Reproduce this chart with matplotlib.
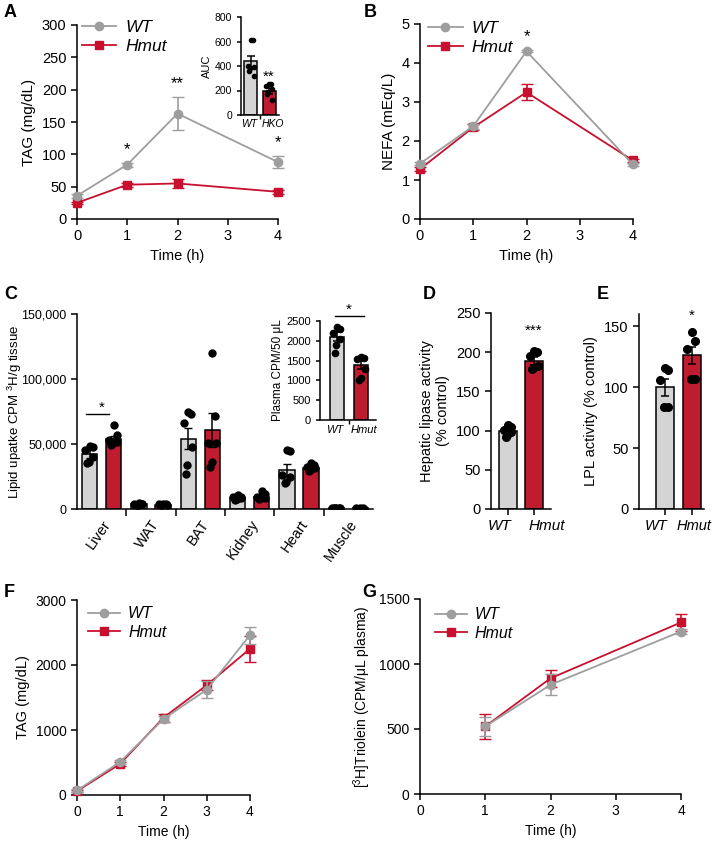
import matplotlib
matplotlib.use('Agg')
import matplotlib.pyplot as plt
import numpy as np
from matplotlib.ticker import FuncFormatter
from matplotlib.lines import Line2D
from matplotlib.transforms import ScaledTranslation

plt.rcParams['font.family'] = ['Liberation Sans', 'DejaVu Sans']
plt.rcParams['font.size'] = 9
plt.rcParams['mathtext.default'] = 'regular'
plt.rcParams['axes.linewidth'] = 1.1

WT_LINE = '#9e9e9e'
HM_LINE = '#c8102e'
WT_BAR = '#d4d4d4'
HM_BAR = '#c01c2f'

# A: TAG after oral lipid load
time_a = [0, 1, 2, 4]
a_wt = [36, 84, 163, 88]
a_wt_err = [3, 3, 25, 9]
a_hm = [25, 53, 55, 42]
a_hm_err = [2, 3, 7, 3]
a_stars = ['', '*', '**', '*']

# A inset: AUC
auc_groups = ['WT', 'HKO']
auc_mean = [440, 195]
auc_err = [45, 25]
auc_dots = [[610, 610, 400, 390, 380, 360, 320],
            [250, 250, 240, 210, 190, 170, 120]]

# B: NEFA
time_b = [0, 1, 2, 4]
b_wt = [1.42, 2.38, 4.30, 1.40]
b_wt_err = [0.04, 0.06, 0.03, 0.04]
b_hm = [1.28, 2.35, 3.25, 1.50]
b_hm_err = [0.05, 0.08, 0.20, 0.05]
b_stars = ['', '', '*', '']

# C: tissue lipid uptake
tissues = ['Liver', 'WAT', 'BAT', 'Kidney', 'Heart', 'Muscle']
c_wt = [42500, 3800, 54000, 8800, 30000, 600]
c_wt_err = [3000, 300, 8000, 700, 4500, 150]
c_hm = [53800, 3400, 61000, 9500, 31500, 400]
c_hm_err = [2500, 300, 13000, 1000, 1200, 100]
c_wt_dots = [[48500, 48000, 45400, 40300, 36400, 35600],
             [4500, 4200, 3900, 3600, 3300, 3000],
             [74900, 73100, 65900, 47900, 33800, 26900],
             [11000, 9500, 9000, 8500, 8000, 7000],
             [45400, 44900, 26000, 24900, 21000, 20300],
             [800, 700, 600, 500, 500, 400]]
c_hm_dots = [[64600, 56900, 53100, 51800, 50500, 49200],
             [4200, 3800, 3500, 3200, 2900, 2700],
             [120000, 71800, 50500, 50500, 36400, 32600],
             [14100, 11500, 9500, 8700, 8200, 7500],
             [35600, 33800, 32600, 31300, 30000, 29500],
             [600, 500, 400, 300, 300, 200]]

# C inset: plasma counts
plasma_groups = ['WT', 'Hmut']
plasma_mean = [2100, 1390]
plasma_err = [110, 100]
plasma_dots = [[2350, 2300, 2200, 2050, 1900, 1680],
               [1600, 1560, 1540, 1300, 1050, 1000]]

# D: hepatic lipase
d_groups = ['WT', 'Hmut']
d_mean = [100, 189]
d_err = [3, 5]
d_dots = [[107, 104, 101, 98, 95, 92],
          [202, 200, 195, 183, 180, 178]]

# E: LPL activity
e_groups = ['WT', 'Hmut']
e_mean = [100, 126]
e_err = [7, 7]
e_dots = [[116, 114, 106, 84, 84],
          [145, 138, 131, 107, 107]]

# F: TAG secretion
time_f = [0, 1, 2, 3, 4]
f_wt = [70, 510, 1170, 1620, 2460]
f_wt_err = [30, 30, 50, 130, 130]
f_hm = [60, 480, 1190, 1690, 2250]
f_hm_err = [20, 30, 60, 80, 200]

# G: triolein
time_g = [1, 2, 4]
g_wt = [520, 840, 1250]
g_wt_err = [70, 80, 20]
g_hm = [520, 890, 1320]
g_hm_err = [95, 65, 65]

W, H = 714, 843
fig = plt.figure(figsize=(W / 100, H / 100), dpi=100)


def ax_px(l, t, r, b):
    return fig.add_axes([l / W, 1 - b / H, (r - l) / W, (b - t) / H])


def style(ax, fs=9):
    for s in ['top', 'right']:
        ax.spines[s].set_visible(False)
    ax.tick_params(direction='out', length=4, width=1.1, labelsize=fs)


def jitter(n, w):
    return w * np.sin(np.arange(n) * 2.4)


def line_panel(ax, t, wt, wte, hm, hme, fs=10, lw=1.3, ms=6):
    ax.errorbar(t, hm, yerr=hme, color=HM_LINE, marker='s', ms=ms - 0.5,
                lw=lw, capsize=4, elinewidth=1.2, clip_on=False, zorder=3)
    ax.errorbar(t, wt, yerr=wte, color=WT_LINE, marker='o', ms=ms,
                lw=lw, capsize=4, elinewidth=1.2, clip_on=False, zorder=4)
    style(ax, fs)
    ax.set_xlabel('Time (h)', fontsize=fs)


def legend(ax, fs=12, anchor=(0.02, 1.0), ms=6):
    h1 = Line2D([], [], color=WT_LINE, marker='o', ms=ms, lw=1.3)
    h2 = Line2D([], [], color=HM_LINE, marker='s', ms=ms - 0.5, lw=1.3)
    ax.legend([h1, h2], ['WT', 'Hmut'], loc='upper left', bbox_to_anchor=anchor,
              frameon=False, prop={'style': 'italic', 'size': fs},
              handlelength=2.0, handletextpad=0.5, labelspacing=0.2,
              borderpad=0.1, borderaxespad=0)


def bar_panel(ax, means, errs, dots, width, ms, jw):
    x = np.arange(len(means))
    ax.bar(x, means, width=width, color=[WT_BAR, HM_BAR], edgecolor='black',
           linewidth=1.1, zorder=2)
    for i, d in enumerate(dots):
        ax.plot(i + jitter(len(d), jw), d, 'o', color='black', ms=ms, zorder=3,
                clip_on=False)
    ax.errorbar(x, means, yerr=errs, fmt='none', ecolor='black', elinewidth=1.1,
                capsize=3, capthick=1.1, zorder=4)
    style(ax)
    return x


def shift_labels(ax, shifts):
    for lab, dx in zip(ax.get_xticklabels(), shifts):
        lab.set_transform(lab.get_transform() + ScaledTranslation(dx / 100, 0, fig.dpi_scale_trans))


# ---- A ----
axA = ax_px(77, 25, 278, 219)
line_panel(axA, time_a, a_wt, a_wt_err, a_hm, a_hm_err, fs=10.5)
axA.set_xlim(0, 4)
axA.set_ylim(0, 300)
axA.set_xticks([0, 1, 2, 3, 4])
axA.set_yticks(range(0, 301, 50))
axA.set_ylabel('TAG (mg/dL)', fontsize=11)
legend(axA, fs=12.5, anchor=(0.015, 1.035))
for t, m, e, s in zip(time_a, a_wt, a_wt_err, a_stars):
    if s:
        axA.text(t, m + e + 14, s, ha='center', va='baseline', fontsize=12)

axAi = ax_px(241, 17, 279, 115)
bar_panel(axAi, auc_mean, auc_err, auc_dots, 0.72, 3, 0.18)
axAi.set_xlim(-0.55, 1.55)
axAi.set_ylim(0, 800)
axAi.set_yticks(range(0, 801, 200))
axAi.tick_params(labelsize=7.5, length=3)
axAi.set_xticks([0, 1])
axAi.set_xticklabels(auc_groups, style='italic', fontsize=7.5)
axAi.tick_params(axis='x', length=0, pad=3)
shift_labels(axAi, [-2, 4])
axAi.set_xticks([0.5], minor=True)
axAi.tick_params(axis='x', which='minor', length=3, width=1)
axAi.set_ylabel('AUC', fontsize=8, labelpad=2)
axAi.text(1, auc_mean[1] + auc_err[1] + 60, '**', ha='center', va='baseline', fontsize=11)

# ---- B ----
axB = ax_px(420, 24, 633, 219)
line_panel(axB, time_b, b_wt, b_wt_err, b_hm, b_hm_err, fs=10.5)
axB.set_xlim(0, 4)
axB.set_ylim(0, 5)
axB.set_xticks([0, 1, 2, 3, 4])
axB.set_yticks(range(0, 6))
axB.set_ylabel('NEFA (mEq/L)', fontsize=11)
legend(axB, fs=12.5, anchor=(0.03, 1.025))
for t, m, e, s in zip(time_b, b_wt, b_wt_err, b_stars):
    if s:
        axB.text(t, m + e + 0.22, s, ha='center', va='baseline', fontsize=12)

# ---- C ----
axC = ax_px(77, 314, 373, 509)
xc = np.arange(len(tissues))
off, bw = 0.245, 0.31
axC.bar(xc - off, c_wt, width=bw, color=WT_BAR, edgecolor='black', linewidth=1.1, zorder=2)
axC.bar(xc + off, c_hm, width=bw, color=HM_BAR, edgecolor='black', linewidth=1.1, zorder=2)
for i in range(len(tissues)):
    axC.plot(i - off + jitter(len(c_wt_dots[i]), 0.09), c_wt_dots[i], 'o',
             color='black', ms=5, zorder=3)
    axC.plot(i + off + jitter(len(c_hm_dots[i]), 0.09), c_hm_dots[i], 'o',
             color='black', ms=5, zorder=3)
axC.errorbar(xc - off, c_wt, yerr=c_wt_err, fmt='none', ecolor='black',
             elinewidth=1.1, capsize=3, zorder=4)
axC.errorbar(xc + off, c_hm, yerr=c_hm_err, fmt='none', ecolor='black',
             elinewidth=1.1, capsize=3, zorder=4)
style(axC, 9)
axC.set_xlim(-0.5, 5.5)
axC.set_ylim(0, 150000)
axC.set_yticks(range(0, 150001, 50000))
axC.yaxis.set_major_formatter(FuncFormatter(lambda v, p: f'{int(v):,}'))
axC.set_xticks(xc)
axC.set_xticklabels(tissues, rotation=55, ha='right', rotation_mode='anchor', fontsize=10.5)
axC.tick_params(axis='x', length=0, pad=6)
axC.set_xticks(xc[:-1] + 0.5, minor=True)
axC.tick_params(axis='x', which='minor', length=5, width=1.1)
axC.set_ylabel('Lipid upatke CPM $^{3}$H/g tissue', fontsize=9.5)
axC.yaxis.set_label_coords(-0.18, 0.5)
axC.plot([-off - 0.08, off - 0.1], [73000, 73000], color='black', lw=1)
axC.text(0, 75000, '*', ha='center', va='baseline', fontsize=11)

axCi = ax_px(320, 321, 376, 420)
bar_panel(axCi, plasma_mean, plasma_err, plasma_dots, 0.58, 4.5, 0.17)
axCi.set_xlim(-0.7, 1.6)
axCi.set_ylim(0, 2500)
axCi.set_yticks(range(0, 2501, 500))
axCi.tick_params(labelsize=8, length=3)
axCi.set_xticks([0, 1])
axCi.set_xticklabels(plasma_groups, style='italic', fontsize=8)
axCi.tick_params(axis='x', length=0)
shift_labels(axCi, [-2, 3])
axCi.set_xticks([0.5], minor=True)
axCi.tick_params(axis='x', which='minor', length=3, width=1)
axCi.set_ylabel('Plasma CPM/50 μL', fontsize=8.5, labelpad=2)
axCi.plot([-0.1, 1.1], [2630, 2630], color='black', lw=1, clip_on=False)
axCi.text(0.5, 2680, '*', ha='center', va='baseline', fontsize=11)

# ---- D ----
axD = ax_px(491, 313, 551, 509)
bar_panel(axD, d_mean, d_err, d_dots, 0.68, 5.5, 0.17)
axD.set_xlim(-0.65, 1.65)
axD.set_ylim(0, 250)
axD.set_yticks(range(0, 251, 50))
axD.tick_params(labelsize=10.5)
axD.set_xticks([0, 1])
axD.set_xticklabels(d_groups, style='italic', fontsize=11)
shift_labels(axD, [-8, 13])
axD.set_ylabel('Hepatic lipase activity\n(% control)', fontsize=10.5)
axD.text(1, d_mean[1] + d_err[1] + 28, '***', ha='center', va='baseline', fontsize=11)

# ---- E ----
axE = ax_px(639, 314, 704, 509)
bar_panel(axE, e_mean, e_err, e_dots, 0.68, 5.5, 0.17)
axE.set_xlim(-0.95, 1.45)
axE.set_ylim(0, 160)
axE.set_yticks(range(0, 151, 50))
axE.tick_params(labelsize=10.5)
axE.set_xticks([0, 1])
axE.set_xticklabels(e_groups, style='italic', fontsize=10.5)
shift_labels(axE, [-9, 2])
axE.set_ylabel('LPL activity (% control)', fontsize=10.5)
axE.text(1, e_mean[1] + e_err[1] + 22, '*', ha='center', va='baseline', fontsize=11)

# ---- F ----
axF = ax_px(77, 600, 250, 795)
line_panel(axF, time_f, f_wt, f_wt_err, f_hm, f_hm_err, fs=10)
axF.set_xlim(0, 4)
axF.set_ylim(0, 3000)
axF.set_xticks(time_f)
axF.set_yticks(range(0, 3001, 1000))
axF.set_ylabel('TAG (mg/dL)', fontsize=10.5)
legend(axF, fs=11.5, anchor=(0.055, 0.975))

# ---- G ----
axG = ax_px(420, 599, 681, 794)
line_panel(axG, time_g, g_wt, g_wt_err, g_hm, g_hm_err, fs=10)
axG.set_xlim(0, 4)
axG.set_ylim(0, 1500)
axG.set_xticks([0, 1, 2, 3, 4])
axG.set_yticks(range(0, 1501, 500))
axG.set_ylabel('[$^{3}$H]Triolein (CPM/μL plasma)', fontsize=10)
legend(axG, fs=11.5, anchor=(0.05, 0.965))

# panel letters
for lab, x, y in [('A', 4, 4), ('B', 364, 4), ('C', 4, 286), ('D', 423, 286),
                  ('E', 597, 286), ('F', 4, 584), ('G', 362, 584)]:
    fig.text(x / W, 1 - y / H, lab, fontsize=13, fontweight='bold', va='top', ha='left')

fig.savefig('out.png', dpi=100)
